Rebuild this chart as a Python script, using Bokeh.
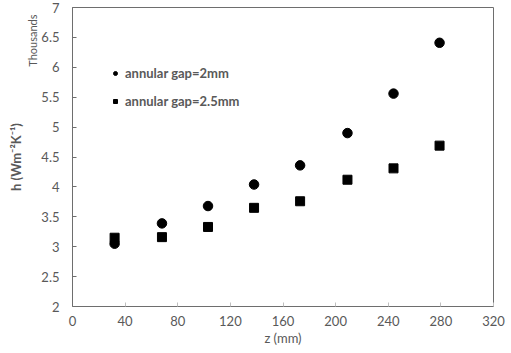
from bokeh.plotting import figure
from bokeh.models import Range1d, FixedTicker, Legend, LegendItem, Title
from bokeh.embed import file_html
from bokeh.resources import INLINE

# Data (h in thousands of W m^-2 K^-1)
z_mm = [32, 68, 103, 138, 173, 209, 244, 279]
h_gap_2mm = [3.05, 3.39, 3.68, 4.04, 4.36, 4.90, 5.56, 6.41]
h_gap_2_5mm = [3.15, 3.16, 3.33, 3.65, 3.76, 4.12, 4.31, 4.69]
x_ticks = [0, 40, 80, 120, 160, 200, 240, 280, 320]
y_ticks = [2, 2.5, 3, 3.5, 4, 4.5, 5, 5.5, 6, 6.5, 7]
series_names = ["annular gap=2mm", "annular gap=2.5mm"]

FONT = "Lato"
GREY = "#595959"

p = figure(width=511, height=353, output_backend="svg", toolbar_location=None,
           x_range=Range1d(0, 320), y_range=Range1d(2, 7),
           min_border_left=72, min_border_right=18, min_border_top=7, min_border_bottom=47)
p.grid.visible = False
p.outline_line_color = "#6e6e6e"
p.outline_line_width = 1

r1 = p.scatter(z_mm, h_gap_2mm, marker="circle", size=9.5, color="black")
r2 = p.scatter(z_mm, h_gap_2_5mm, marker="square", size=9, color="black")

for ax in (p.xaxis[0], p.yaxis[0]):
    ax.axis_line_color = "#6e6e6e"
    ax.major_tick_in = 4
    ax.major_tick_out = 0
    ax.minor_tick_line_color = None
    ax.major_label_text_font = FONT
    ax.major_label_text_font_size = "13px"
    ax.major_label_text_color = GREY
    ax.axis_label_text_font = FONT
    ax.axis_label_text_color = GREY
    ax.axis_label_text_font_style = "normal"

p.xaxis.ticker = FixedTicker(ticks=x_ticks)
p.xaxis.major_tick_line_color = "#bfbfbf"
p.xaxis.major_label_standoff = 9
p.xaxis.axis_label = "z (mm)"
p.xaxis.axis_label_text_font_size = "13px"
p.xaxis.axis_label_standoff = 1

p.yaxis.ticker = FixedTicker(ticks=y_ticks)
p.yaxis.major_label_overrides = {t: ("%g" % t) for t in y_ticks}
p.yaxis.major_tick_line_color = "#6e6e6e"
p.yaxis.major_label_standoff = 13

# "Thousands" (nearer the axis, at the top) and the quantity label (outside, centred)
p.add_layout(Title(text="Thousands", align="right", offset=7, standoff=0, text_font=FONT,
                   text_font_size="11px", text_color=GREY, text_font_style="normal"), "left")
p.add_layout(Title(text="h (Wm⁻²K⁻¹)", align="center", offset=4, standoff=0, text_font=FONT,
                   text_font_size="13px", text_color=GREY, text_font_style="bold"), "left")

legend = Legend(items=[LegendItem(label=series_names[0], renderers=[r1]),
                       LegendItem(label=series_names[1], renderers=[r2])],
                location=(38, 197), padding=0, margin=0, spacing=12,
                glyph_width=10, glyph_height=14, label_height=14, label_standoff=5,
                label_text_font=FONT, label_text_font_size="13px", label_text_color=GREY,
                label_text_font_style="bold",
                border_line_color=None, background_fill_alpha=0)
p.add_layout(legend)

open("out.html", "w").write(file_html(p, INLINE))
